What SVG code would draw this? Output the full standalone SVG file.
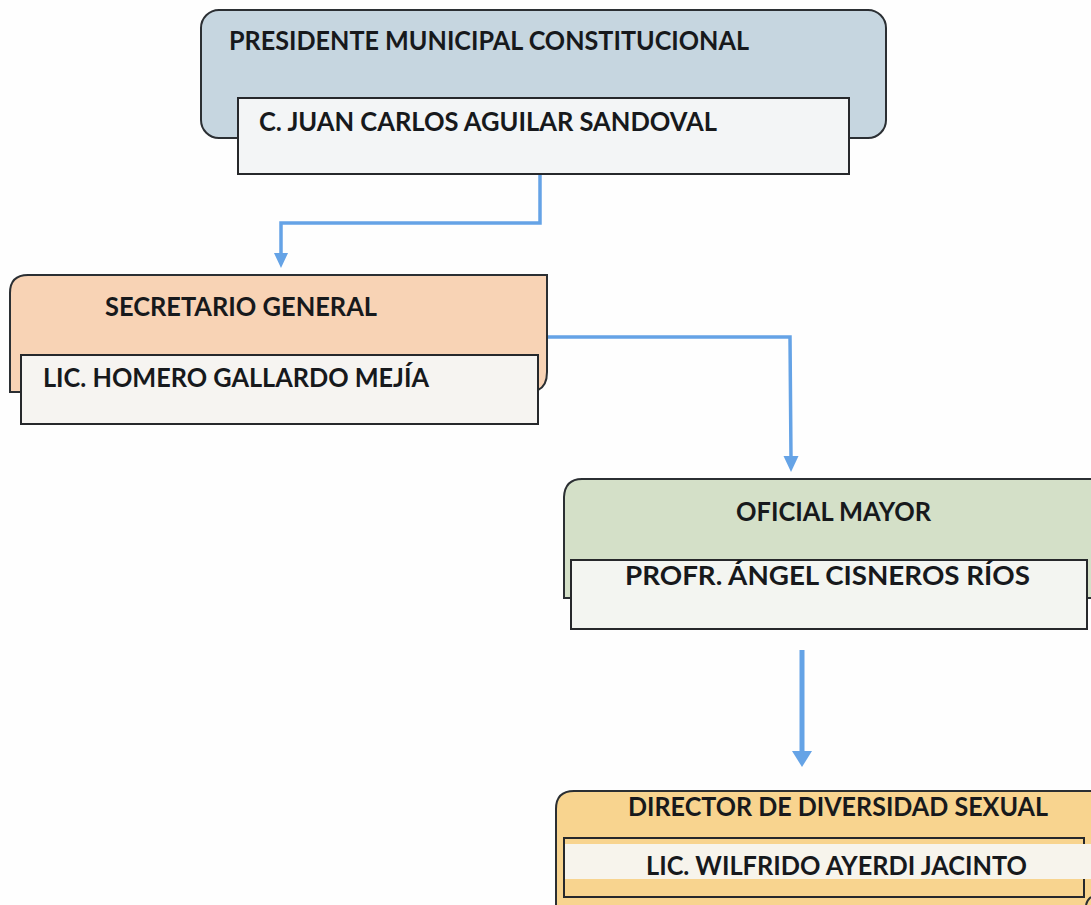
<svg xmlns="http://www.w3.org/2000/svg" width="1091" height="905" viewBox="0 0 1091 905">
<style>
.outer{stroke:#2b2f33;stroke-width:2}
.inner{stroke:#26282b;stroke-width:2}
.t{font-family:"Lato","Liberation Sans",sans-serif;font-weight:700;font-size:26px;fill:#17191c}
.c{fill:none;stroke:#65a3e6;stroke-width:3.5}
.thick{stroke-width:5}
.h{fill:#65a3e6}
</style>
<rect width="1091" height="905" fill="#fefefe"/>
<g id="connectors">
<path class="c" d="M540 174V223H281V254"/>
<path class="h" d="M274 253H288L281 268Z"/>
<path class="c" d="M548 337H790L791 458"/>
<path class="h" d="M783.500 456H798.500L791 472Z"/>
<path class="c thick" d="M802 650V755"/>
<path class="h" d="M792 751H812L802 767Z"/>
</g>
<g id="node-presidente">
<rect class="outer" x="201" y="10" width="685" height="128" rx="18" fill="#c6d6e0"/>
<text class="t" x="229" y="50" textLength="520" lengthAdjust="spacingAndGlyphs">PRESIDENTE MUNICIPAL CONSTITUCIONAL</text>
<rect class="inner" x="238" y="98" width="611" height="76" fill="#f3f5f6"/>
<text class="t" x="259" y="131" textLength="458" lengthAdjust="spacingAndGlyphs">C. JUAN CARLOS AGUILAR SANDOVAL</text>
</g>
<g id="node-secretario">
<path class="outer" d="M10 392V293Q10 275 28 275H547V372Q547 386 538 390V392Z" fill="#f8d3b5"/>
<text class="t" x="105" y="316" textLength="272" lengthAdjust="spacingAndGlyphs">SECRETARIO GENERAL</text>
<rect class="inner" x="21" y="355" width="517" height="69" fill="#f6f4f1"/>
<text class="t" x="43" y="387" textLength="386" lengthAdjust="spacingAndGlyphs">LIC. HOMERO GALLARDO MEJÍA</text>
</g>
<g id="node-oficial">
<path class="outer" d="M1092 479H582Q565 479 564 497V598H1092Z" fill="#d4e0c8"/>
<text class="t" x="736" y="521" textLength="195" lengthAdjust="spacingAndGlyphs">OFICIAL MAYOR</text>
<rect class="inner" x="571" y="560" width="516" height="69" fill="#f3f5f1"/>
<text class="t" x="625" y="585" textLength="405" lengthAdjust="spacingAndGlyphs">PROFR. ÁNGEL CISNEROS RÍOS</text>
</g>
<g id="node-director">
<path class="outer" d="M1092 791H574Q556 791 556 809V906H1092Z" fill="#f8d48f"/>
<text class="t" x="628" y="816" textLength="420" lengthAdjust="spacingAndGlyphs">DIRECTOR DE DIVERSIDAD SEXUAL</text>
<rect class="inner" x="564" y="838" width="520" height="59" fill="#f8d48f"/>
<rect x="565" y="844" width="526" height="35" fill="#f7f4ec"/>
<text class="t" x="646" y="875" textLength="381" lengthAdjust="spacingAndGlyphs">LIC. WILFRIDO AYERDI JACINTO</text>
<path d="M1091 897Q1087 900 1086 905" fill="none" stroke="#2b2f33" stroke-width="2"/>
</g>
</svg>
